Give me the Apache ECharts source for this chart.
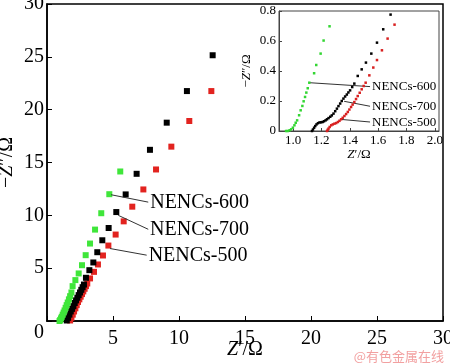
<!DOCTYPE html>
<html><head><meta charset="utf-8">
<script src="https://cdn.jsdelivr.net/npm/echarts@6/dist/echarts.min.js"></script>
<style>html,body{margin:0;padding:0;background:#fff}#c{width:450px;height:364px}</style>
</head><body><div id="c"></div>
<script>
// Main plot data [Z', -Z'']
const main500 = [[1.75,0.05],[1.85,0.3],[1.95,0.6],[2.05,0.9],[2.15,1.2],[2.25,1.5],[2.35,1.8],[2.45,2.05],[2.55,2.3],[2.65,2.55],[2.75,2.8],[2.85,3.05],[2.95,3.3],[3.05,3.55],[3.26,4.03],[3.56,4.65],[3.86,5.35],[4.24,6.2],[4.65,7.14],[5.20,8.18],[5.81,9.43],[6.46,10.82],[7.30,12.45],[8.26,14.34],[9.42,16.5],[10.78,18.93],[12.45,21.76]];
const main700 = [[1.5,0.05],[1.6,0.3],[1.7,0.6],[1.8,0.9],[1.9,1.15],[2.0,1.4],[2.1,1.7],[2.2,1.95],[2.3,2.2],[2.4,2.45],[2.5,2.7],[2.6,2.95],[2.7,3.2],[2.8,3.45],[2.95,4.09],[3.21,4.81],[3.51,5.54],[3.81,6.51],[4.19,7.64],[4.67,8.8],[5.25,10.31],[5.96,11.98],[6.79,13.93],[7.80,16.2],[9.07,18.77],[10.6,21.76],[12.55,25.15]];
const main600 = [[0.95,0.0],[1.0,0.1],[1.06,0.25],[1.12,0.4],[1.19,0.6],[1.26,0.8],[1.33,1.0],[1.41,1.25],[1.49,1.5],[1.57,1.75],[1.66,2.05],[1.75,2.35],[1.85,2.7],[1.94,3.3],[2.15,3.87],[2.4,4.5],[2.65,5.28],[2.93,6.23],[3.26,7.33],[3.64,8.65],[4.11,10.2],[4.72,12.0],[5.55,14.15]];
// Inset data
const inset600 = [[0.95,0.0],[0.962,0.0],[0.975,0.005],[0.986,0.011],[0.998,0.022],[1.009,0.038],[1.018,0.055],[1.028,0.071],[1.042,0.105],[1.053,0.138],[1.065,0.167],[1.074,0.198],[1.084,0.227],[1.093,0.256],[1.103,0.285],[1.114,0.322],[1.148,0.385],[1.163,0.44],[1.194,0.516],[1.215,0.603],[1.257,0.698]];
const inset700 = [[1.133,0.0],[1.14,0.01],[1.148,0.022],[1.156,0.033],[1.165,0.044],[1.175,0.052],[1.186,0.057],[1.197,0.058],[1.208,0.06],[1.218,0.065],[1.229,0.071],[1.239,0.078],[1.25,0.086],[1.262,0.095],[1.273,0.104],[1.285,0.116],[1.297,0.132],[1.309,0.149],[1.32,0.166],[1.332,0.183],[1.343,0.2],[1.355,0.216],[1.367,0.23],[1.379,0.243],[1.39,0.257],[1.402,0.271],[1.417,0.293],[1.432,0.316],[1.456,0.367],[1.484,0.411],[1.514,0.456],[1.552,0.516],[1.592,0.589],[1.636,0.678],[1.688,0.776]];
const inset500 = [[1.239,0.0],[1.244,0.008],[1.25,0.016],[1.258,0.027],[1.269,0.038],[1.28,0.044],[1.292,0.049],[1.304,0.053],[1.316,0.06],[1.327,0.068],[1.339,0.078],[1.35,0.088],[1.362,0.1],[1.374,0.113],[1.386,0.127],[1.397,0.143],[1.409,0.16],[1.42,0.176],[1.432,0.193],[1.444,0.213],[1.456,0.233],[1.47,0.255],[1.484,0.278],[1.498,0.3],[1.512,0.322],[1.538,0.371],[1.566,0.423],[1.592,0.473],[1.627,0.538],[1.667,0.616],[1.716,0.709]];
const mainTicks = [0,5,10,15,20,25,30];
const insetXTicks = [1.0,1.2,1.4,1.6,1.8,2.0];
const insetYTicks = [0,0.2,0.4,0.6,0.8];
const names = {s500:'NENCs-500', s600:'NENCs-600', s700:'NENCs-700'};

const FF = 'Liberation Serif';
const RED = '#e2231f', GREEN = '#3fe63a', BLACK = '#000';

function ml(from, to, label, fs){
  return {
    silent: true, symbol: ['none','none'], animation: false,
    lineStyle: {color: '#333', width: 1, type: 'solid'},
    label: {show: true, position: 'end', distance: 2, formatter: label, color: '#000', fontFamily: FF, fontSize: fs},
    emphasis: {disabled: true},
    data: [[{coord: from}, {coord: to}]]
  };
}

const chart = echarts.init(document.getElementById('c'), null, {renderer: 'canvas'});
const axisLabelMain = {color: '#000', fontFamily: FF, fontSize: 20};
chart.setOption({
  animation: false,
  backgroundColor: '#fff',
  grid: [
    {left: 47, right: 7, top: 4, bottom: 43, show: true, borderColor: '#000', borderWidth: 1.5, backgroundColor: 'transparent', containLabel: false, outerBoundsMode: 'none'},
    {left: 279, top: 11, width: 160, height: 120, show: true, borderColor: '#444', borderWidth: 1, backgroundColor: '#fff', z: 5, containLabel: false, outerBoundsMode: 'none'}
  ],
  xAxis: [
    {gridIndex: 0, type: 'value', min: 0, max: 30, interval: 5,
     axisLine: {lineStyle: {color: '#000', width: 1.5}},
     axisTick: {inside: true, length: 5, lineStyle: {color: '#000', width: 1}},
     splitLine: {show: false},
     axisLabel: Object.assign({margin: 8, formatter: v => v === 0 ? '' : String(v)}, axisLabelMain),
     name: '{i|Z}′/Ω', nameLocation: 'middle', nameGap: 19, nameMoveOverlap: false,
     nameTextStyle: {color: '#000', fontFamily: FF, fontSize: 20, rich: {i: {fontStyle: 'italic', fontFamily: FF, fontSize: 20, color: '#000'}}}
    },
    {gridIndex: 1, type: 'value', min: 0.9, max: 2.03, z: 6,
     axisLine: {lineStyle: {color: '#444', width: 1}},
     axisTick: {inside: true, length: 3, customValues: insetXTicks, lineStyle: {color: '#444'}},
     splitLine: {show: false},
     axisLabel: {customValues: insetXTicks, margin: 3, color: '#000', fontFamily: FF, fontSize: 13, formatter: v => v.toFixed(1)},
     name: '{i|Z}′/Ω', nameLocation: 'middle', nameGap: 17, nameMoveOverlap: false,
     nameTextStyle: {color: '#000', fontFamily: FF, fontSize: 13, rich: {i: {fontStyle: 'italic', fontFamily: FF, fontSize: 13, color: '#000'}}}
    }
  ],
  yAxis: [
    {gridIndex: 0, type: 'value', min: 0, max: 30, interval: 5,
     axisLine: {lineStyle: {color: '#000', width: 1.5}},
     axisTick: {inside: true, length: 5, lineStyle: {color: '#000', width: 1}},
     splitLine: {show: false},
     axisLabel: Object.assign({margin: 3, formatter: v => v === 0 ? '{o|0}' : String(v),
       rich: {o: {padding: [24, 0, 0, 0], color: '#000', fontFamily: FF, fontSize: 20}}}, axisLabelMain),
     name: '−{i|Z}″/Ω', nameLocation: 'middle', nameGap: 30, nameMoveOverlap: false,
     nameTextStyle: {color: '#000', fontFamily: FF, fontSize: 20, rich: {i: {fontStyle: 'italic', fontFamily: FF, fontSize: 20, color: '#000'}}}
    },
    {gridIndex: 1, type: 'value', min: 0, max: 0.8, interval: 0.2, z: 6,
     axisLine: {lineStyle: {color: '#444', width: 1}},
     axisTick: {inside: true, length: 3, lineStyle: {color: '#444'}},
     splitLine: {show: false},
     axisLabel: {margin: 3, color: '#000', fontFamily: FF, fontSize: 13, formatter: v => v === 0 ? '0' : v.toFixed(1)},
     name: '−{i|Z}″/Ω', nameLocation: 'middle', nameGap: 26, nameMoveOverlap: false,
     nameTextStyle: {color: '#000', fontFamily: FF, fontSize: 13, rich: {i: {fontStyle: 'italic', fontFamily: FF, fontSize: 13, color: '#000'}}}
    }
  ],
  series: [
    {name: names.s500, type: 'scatter', xAxisIndex: 0, yAxisIndex: 0, data: main500, symbol: 'rect', symbolSize: 6, itemStyle: {color: RED, opacity: 1},
     markLine: ml([4.77, 6.86], [7.55, 6.23], names.s500, 20)},
    {name: names.s700, type: 'scatter', xAxisIndex: 0, yAxisIndex: 0, data: main700, symbol: 'rect', symbolSize: 6, itemStyle: {color: BLACK, opacity: 1},
     markLine: ml([5.4, 10.0], [7.67, 8.68], names.s700, 20)},
    {name: names.s600, type: 'scatter', xAxisIndex: 0, yAxisIndex: 0, data: main600, symbol: 'rect', symbolSize: 6, itemStyle: {color: GREEN, opacity: 1},
     markLine: ml([4.85, 11.95], [7.67, 11.25], names.s600, 20)},
    {name: names.s500 + ' inset', type: 'scatter', xAxisIndex: 1, yAxisIndex: 1, data: inset500, symbol: 'rect', symbolSize: 2.5, z: 10, itemStyle: {color: '#d82020', opacity: 1},
     markLine: Object.assign(ml([1.33, 0.078], [1.543, 0.06], names.s500, 13), {z: 10})},
    {name: names.s700 + ' inset', type: 'scatter', xAxisIndex: 1, yAxisIndex: 1, data: inset700, symbol: 'rect', symbolSize: 2.5, z: 10, itemStyle: {color: BLACK, opacity: 1},
     markLine: Object.assign(ml([1.36, 0.198], [1.543, 0.165], names.s700, 13), {z: 10})},
    {name: names.s600 + ' inset', type: 'scatter', xAxisIndex: 1, yAxisIndex: 1, data: inset600, symbol: 'rect', symbolSize: 2.5, z: 10, itemStyle: {color: '#33d633', opacity: 1},
     markLine: Object.assign(ml([1.114, 0.322], [1.543, 0.296], names.s600, 13), {z: 10})}
  ],
  graphic: [
    {type: 'text', right: 6, bottom: 1, z: 20, style: {text: '@有色金属在线', fill: '#f2a0a0', font: '13px "Noto Sans CJK SC"'}}
  ]
});
</script></body></html>
